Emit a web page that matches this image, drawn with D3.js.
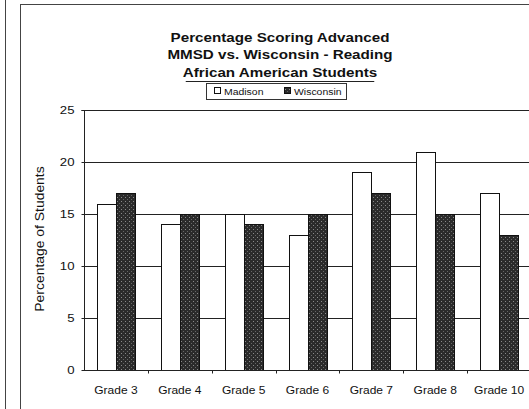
<!DOCTYPE html>
<html><head><meta charset="utf-8">
<script src="https://cdn.jsdelivr.net/npm/d3@7"></script>
<style>body{margin:0;background:#fff}svg{display:block;font-family:"Liberation Sans",Arial,sans-serif}</style>
</head><body>
<script>
const categories = ["Grade 3","Grade 4","Grade 5","Grade 6","Grade 7","Grade 8","Grade 10"];
const seriesNames = ["Madison","Wisconsin"];
const madison = [16,14,15,13,19,21,17];
const wisconsin = [17,15,14,15,17,15,13];
const yTicks = [0,5,10,15,20,25];
const titleLines = ["Percentage Scoring Advanced","MMSD vs. Wisconsin - Reading","African American Students"];

(function(){
const W=529,H=409;
const svg=d3.select("body").append("svg").attr("width",W).attr("height",H);
const defs=svg.append("defs");
const pat=defs.append("pattern").attr("id","stip").attr("patternUnits","userSpaceOnUse").attr("width",4).attr("height",4);
pat.append("rect").attr("width",4).attr("height",4).attr("fill","#2b2b2b");
pat.append("rect").attr("x",1).attr("y",1).attr("width",1).attr("height",1).attr("fill","#8a8a8a");
pat.append("rect").attr("x",3).attr("y",3).attr("width",1).attr("height",1).attr("fill","#666");

// frame lines
svg.append("line").attr("x1",5.5).attr("x2",5.5).attr("y1",0).attr("y2",H).attr("stroke","#444");
svg.append("line").attr("x1",20.5).attr("x2",20.5).attr("y1",4).attr("y2",H).attr("stroke","#444");
svg.append("line").attr("x1",20.5).attr("x2",W).attr("y1",4.5).attr("y2",4.5).attr("stroke","#444");

const pLeft=84,pRight=531,pTop=110,pBottom=370;
const x=d3.scaleBand().domain(categories).range([pLeft,pRight]);
const groupW=38;
const xs=d3.scaleBand().domain(seriesNames).range([0,groupW]);
const y=d3.scaleLinear().domain([0,25]).range([pBottom,pTop]);

// gridlines
svg.append("g").selectAll("line").data(yTicks.filter(d=>d>0)).join("line")
 .attr("x1",pLeft).attr("x2",W).attr("y1",d=>Math.round(y(d))+0.5).attr("y2",d=>Math.round(y(d))+0.5)
 .attr("stroke","#222").attr("stroke-width",1);

const g=svg.append("g");
const data=categories.map((c,i)=>({c,vals:[madison[i],wisconsin[i]]}));
data.forEach(d=>{
  const x0=Math.round(x(d.c)+(x.bandwidth()-groupW)/2);
  d.vals.forEach((v,j)=>{
    g.append("rect").attr("x",x0+xs(seriesNames[j])+0.5).attr("y",Math.round(y(v))+0.5)
     .attr("width",xs.bandwidth()).attr("height",pBottom-Math.round(y(v)))
     .attr("fill",j===0?"#fff":"url(#stip)").attr("stroke","#111").attr("stroke-width",1);
  });
});

// y axis
const ya=svg.append("g").attr("transform",`translate(${pLeft+0.5},0)`).call(d3.axisLeft(y).tickValues(yTicks).tickSize(3).tickPadding(0));
ya.select(".domain").attr("stroke","#222").attr("d",`M-3,${pTop+0.5}H0V${pBottom}`);
ya.selectAll(".tick line").attr("stroke","#222");
ya.selectAll("text").attr("x",0).attr("transform","translate(-10,0) scale(1.2,1)")
  .attr("font-size",11).attr("fill","#111").attr("font-family","Liberation Sans, Arial");
// x axis
const xa=svg.append("g").attr("transform",`translate(0,${pBottom+0.5})`);
xa.append("line").attr("x1",pLeft).attr("x2",W).attr("stroke","#222");
xa.selectAll(".tk").data(categories.slice(1)).join("line").attr("class","tk")
 .attr("x1",d=>Math.round(x(d))+0.5).attr("x2",d=>Math.round(x(d))+0.5).attr("y1",0).attr("y2",3).attr("stroke","#222");
xa.selectAll("text").data(categories).join("text")
 .attr("transform",d=>`translate(${x(d)+x.bandwidth()/2},23) scale(1.2,1)`).attr("text-anchor","middle")
 .attr("font-size",10).attr("fill","#111").text(d=>d);

// y label
svg.append("text").attr("transform",`translate(44,239) rotate(-90) scale(1.16,1)`).attr("text-anchor","middle")
 .attr("font-size",12).attr("fill","#111").text("Percentage of Students");

// title
const tg=svg.append("g");
tg.selectAll("text").data(titleLines).join("text")
 .attr("transform",(d,i)=>`translate(280,${41.5+i*17.5}) scale(1.17,1)`).attr("text-anchor","middle")
 .attr("font-size",13).attr("font-weight","bold").attr("fill","#111").text(d=>d);

// legend
const lg=svg.append("g");
lg.append("rect").attr("x",206.5).attr("y",83.5).attr("width",140).attr("height",16).attr("fill","#fff").attr("stroke","#333");
const li=[{n:seriesNames[0],x:214},{n:seriesNames[1],x:284}];
li.forEach((d,j)=>{
  lg.append("rect").attr("x",d.x+0.5).attr("y",87.5).attr("width",6).attr("height",6)
   .attr("fill",j===0?"#fff":"url(#stip)").attr("stroke","#111");
  lg.append("text").attr("transform",`translate(${d.x+10},95) scale(1.1,1)`).attr("font-size",9.5).attr("fill","#111").text(d.n);
});
// underline trace under last title line
const last=tg.selectAll("text").nodes()[2].getBBox();
const half=last.width*1.17/2;
svg.append("line").attr("x1",280-half+3).attr("x2",280+half-3).attr("y1",81.5).attr("y2",81.5).attr("stroke","#222");
})();
</script>
</body></html>
